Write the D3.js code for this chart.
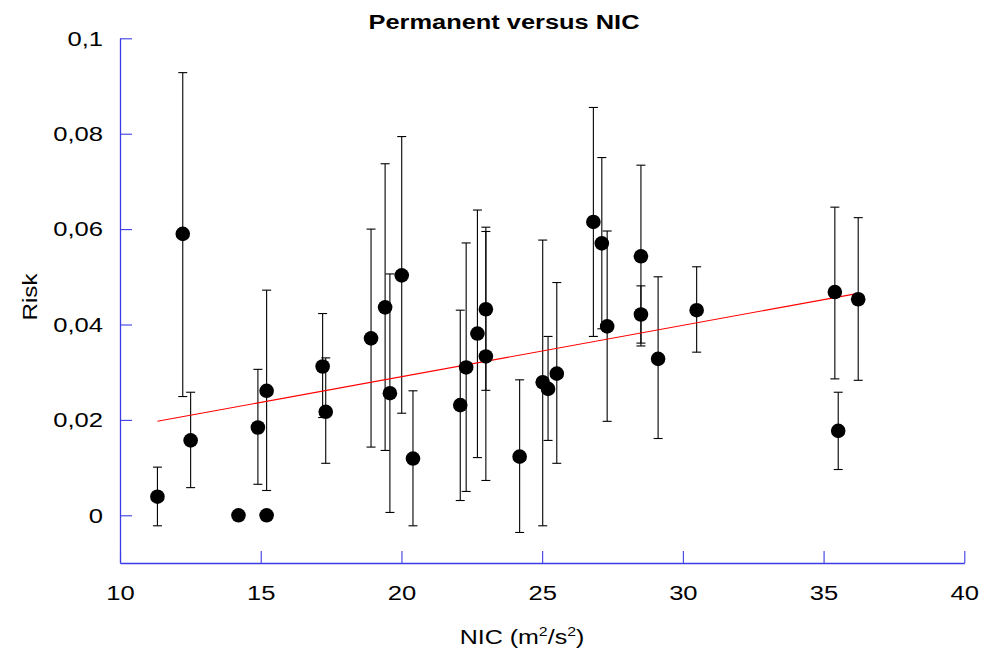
<!DOCTYPE html>
<html>
<head>
<meta charset="utf-8">
<script src="https://cdn.jsdelivr.net/npm/d3@7"></script>
<style>
  html, body { margin: 0; padding: 0; background: #fff; }
  svg { display: block; font-family: "Liberation Sans", Arial, sans-serif; }
</style>
</head>
<body>
<svg id="chart" width="981" height="652"></svg>
<script>
// NIC values (m^2/s^2)
const nic = [11.33, 12.23, 12.51, 14.21, 14.90, 15.21, 15.21, 17.20, 17.31, 18.92,
             19.42, 19.59, 20.01, 20.41, 22.09, 22.30, 22.70, 23.00, 23.00, 24.20,
             25.02, 25.21, 25.52, 26.82, 27.12, 27.31, 28.51, 28.51, 29.12, 30.49,
             35.40, 35.52, 36.23];
// Risk estimates
const risk = [0.0039, 0.0590, 0.0157, 0.0000, 0.0184, 0.0000, 0.0261, 0.0312, 0.0217, 0.0371,
              0.0436, 0.0256, 0.0503, 0.0119, 0.0231, 0.0310, 0.0381, 0.0432, 0.0333, 0.0123,
              0.0279, 0.0265, 0.0297, 0.0615, 0.0570, 0.0396, 0.0543, 0.0421, 0.0328, 0.0430,
              0.0468, 0.0177, 0.0453];
// Lower bounds of error bars (null = no bar)
const riskLow = [-0.0022, 0.0249, 0.0058, null, 0.0065, null, 0.0052, 0.0205, 0.0109, 0.0143,
                 0.0136, 0.0006, 0.0214, -0.0022, 0.0031, 0.0050, 0.0121, 0.0262, 0.0073, -0.0036,
                 -0.0022, 0.0157, 0.0109, 0.0375, 0.0391, 0.0197, 0.0361, 0.0355, 0.0161, 0.0342,
                 0.0286, 0.0096, 0.0283];
// Upper bounds of error bars
const riskHigh = [0.0101, 0.0928, 0.0258, null, 0.0306, null, 0.0472, 0.0423, 0.0330, 0.0600,
                  0.0737, 0.0506, 0.0794, 0.0261, 0.0430, 0.0571, 0.0640, 0.0604, 0.0595, 0.0284,
                  0.0577, 0.0375, 0.0488, 0.0855, 0.0750, 0.0596, 0.0734, 0.0481, 0.0500, 0.0521,
                  0.0646, 0.0258, 0.0624];
// Linear fit: risk = intercept + slope * NIC
const fitIntercept = 0.00754;
const fitSlope = 0.001076;

const xTicks = [10, 15, 20, 25, 30, 35, 40];
const yTicks = [0, 0.02, 0.04, 0.06, 0.08, 0.1];
const xDomain = [10, 40];
const yDomain = [-0.01, 0.1];

const titleText = "Permanent versus NIC";
const yLabelText = "Risk";

const svg = d3.select("#chart");
const mLeft = 120, mRight = 964.3, mTop = 38.3, mBottom = 563;
const stretch = 1.22;

const x = d3.scaleLinear().domain(xDomain).range([mLeft, mRight]);
const y = d3.scaleLinear().domain(yDomain).range([mBottom, mTop]);

const axisColor = "#3c3ce6";
const fmt = d => d === 0 ? "0" : String(d).replace(".", ",");

// Y axis
const gy = svg.append("g").attr("transform", `translate(${mLeft},0)`)
  .call(d3.axisLeft(y).tickValues(yTicks).tickSizeInner(-12).tickSizeOuter(0).tickPadding(17).tickFormat(fmt));
// X axis
const gx = svg.append("g").attr("transform", `translate(0,${mBottom})`)
  .call(d3.axisBottom(x).tickValues(xTicks).tickSizeInner(-12).tickSizeOuter(0).tickPadding(22).tickFormat(d3.format("d")));

[gx, gy].forEach(g => {
  g.select(".domain").attr("stroke", axisColor).attr("stroke-width", 1.3);
  g.selectAll(".tick line").attr("stroke", axisColor).attr("stroke-width", 1.1);
  g.selectAll(".tick text").attr("fill", "#000").style("font-size", "21px")
    .style("font-family", "'Liberation Sans', Arial, sans-serif")
    .attr("transform", `scale(${stretch},1)`);
});
gy.selectAll(".tick text").attr("x", -17 / stretch);

// Data
const data = nic.map((v, i) => ({ x: v, y: risk[i], lo: riskLow[i], hi: riskHigh[i] }));
const withBars = data.filter(d => d.lo !== null && d.hi !== null);

const eb = svg.append("g").attr("stroke", "#000").attr("stroke-width", 1.1).attr("fill", "none");
eb.selectAll("line.v").data(withBars).join("line").attr("class", "v")
  .attr("x1", d => x(d.x)).attr("x2", d => x(d.x))
  .attr("y1", d => y(d.lo)).attr("y2", d => y(d.hi));
eb.selectAll("line.ct").data(withBars).join("line").attr("class", "ct")
  .attr("x1", d => x(d.x) - 4.5).attr("x2", d => x(d.x) + 4.5)
  .attr("y1", d => y(d.hi)).attr("y2", d => y(d.hi));
eb.selectAll("line.cb").data(withBars).join("line").attr("class", "cb")
  .attr("x1", d => x(d.x) - 4.5).attr("x2", d => x(d.x) + 4.5)
  .attr("y1", d => y(d.lo)).attr("y2", d => y(d.lo));

// Fit line
const xMin = d3.min(nic), xMax = d3.max(nic);
svg.append("line")
  .attr("x1", x(xMin)).attr("y1", y(fitIntercept + fitSlope * xMin))
  .attr("x2", x(xMax)).attr("y2", y(fitIntercept + fitSlope * xMax))
  .attr("stroke", "#ff0000").attr("stroke-width", 1.1);

// Points
svg.append("g").selectAll("circle").data(data).join("circle")
  .attr("cx", d => x(d.x)).attr("cy", d => y(d.y)).attr("r", 7.3).attr("fill", "#000");

// Title
svg.append("text").attr("transform", "translate(504,29) scale(1.27,1)").attr("text-anchor", "middle")
  .style("font-size", "20px").style("font-weight", "bold").text(titleText);

// X label
const xl = svg.append("text").attr("transform", `translate(522,644) scale(${stretch},1)`).attr("text-anchor", "middle")
  .style("font-size", "20.5px");
xl.append("tspan").text("NIC (m");
xl.append("tspan").attr("dy", -8).style("font-size", "13px").text("2");
xl.append("tspan").attr("dy", 8).text("/s");
xl.append("tspan").attr("dy", -8).style("font-size", "13px").text("2");
xl.append("tspan").attr("dy", 8).text(")");

// Y label
svg.append("text").attr("transform", "translate(37,297) rotate(-90) scale(1.18,1)").attr("text-anchor", "middle")
  .style("font-size", "20.5px").text(yLabelText);
</script>
</body>
</html>
